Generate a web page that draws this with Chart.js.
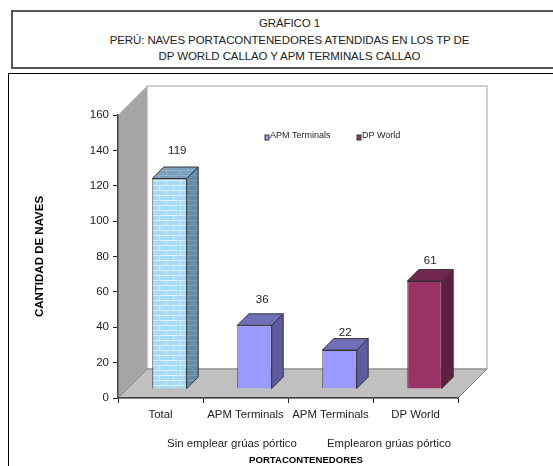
<!DOCTYPE html>
<html lang="es">
<head>
  <meta charset="UTF-8">
  <title>Gráfico 1 - Naves portacontenedores</title>
  <script src="https://cdn.jsdelivr.net/npm/chart.js"></script>
  <style>
    html, body { margin: 0; padding: 0; background: #fff; overflow: hidden; }
    body { width: 553px; height: 466px; position: relative; font-family: "Liberation Sans", Arial, sans-serif; }
    #cabecera {
      position: absolute; left: 11px; top: 10px; width: 560px; height: 55px;
      border: 2px solid #555; box-sizing: content-box;
    }
    #cabecera div {
      position: absolute; left: 0; width: 553px; text-align: center;
      font-size: 11.5px; line-height: 14px; color: #222; letter-spacing: -0.1px;
    }
    #marco {
      position: absolute; left: 8px; top: 72.5px; width: 560px; height: 400px;
      border: 1.5px solid #000;
    }
    canvas { position: absolute; left: 0; top: 0; }
  </style>
</head>
<body>
  <div id="cabecera">
    <div style="top:4px">GRÁFICO 1</div>
    <div style="top:21px">PERÚ: NAVES PORTACONTENEDORES ATENDIDAS EN LOS TP DE</div>
    <div style="top:37px">DP WORLD CALLAO Y APM TERMINALS CALLAO</div>
  </div>
  <div id="marco"></div>
  <canvas id="grafico" width="553" height="466"></canvas>
  <script>
    const categorias = ["Total", "APM Terminals", "APM Terminals", "DP World"];
    const naves = [119, 36, 22, 61];
    const ticksY = [0, 20, 40, 60, 80, 100, 120, 140, 160];
    const grupos = ["Sin emplear grúas pórtico", "Emplearon grúas pórtico"];
    const leyenda = ["APM Terminals", "DP World"];

    // ladrillos de la barra Total
    function ladrillos(fondo, linea) {
      const c = document.createElement("canvas");
      c.width = 14; c.height = 10;
      const g = c.getContext("2d");
      g.fillStyle = fondo; g.fillRect(0, 0, 14, 10);
      g.fillStyle = linea;
      g.fillRect(0, 4, 14, 1); g.fillRect(0, 9, 14, 1);
      g.fillRect(3, 0, 1, 4); g.fillRect(10, 5, 1, 4);
      return g.createPattern(c, "repeat");
    }

    const ctx = document.getElementById("grafico").getContext("2d");
    const frente = [ladrillos("#a6dbfb", "#d6f0ff"), "#9999ff", "#9999ff", "#993366"];
    const lado = [ladrillos("#648aa6", "#7a9db6"), "#5c5ca0", "#5c5ca0", "#5e1f40"];
    const tapa = [ladrillos("#7a9fbc", "#8fb2cc"), "#7070b8", "#7070b8", "#722650"];
    const separacion = [15, 13, 5, 8];   // del rótulo a la tapa
    const corrimiento = [2, 2, 0, 0];

    const FONDO = 29;      // profundidad de las paredes
    const BARRA_X = 9, BARRA_Y = 9, BARRA_F = 11.5;

    const escena3d = {
      id: "escena3d",
      beforeDraw(chart) {
        const c = chart.ctx, x = chart.scales.x, y = chart.scales.y;
        c.save();
        // pared del fondo
        c.fillStyle = "#fff";
        c.strokeStyle = "#c0c0c0";
        c.lineWidth = 1.5;
        c.fillRect(x.left + FONDO, y.top - FONDO, x.width, y.height);
        c.strokeRect(x.left + FONDO, y.top - FONDO, x.width, y.height);
        // pared izquierda
        c.fillStyle = "#a6a6a6";
        c.beginPath();
        c.moveTo(x.left, y.bottom);
        c.lineTo(x.left, y.top);
        c.lineTo(x.left + FONDO, y.top - FONDO);
        c.lineTo(x.left + FONDO, y.bottom - FONDO);
        c.closePath(); c.fill();
        // piso
        c.fillStyle = "#c0c0c0";
        c.strokeStyle = "#808080";
        c.lineWidth = 1;
        c.beginPath();
        c.moveTo(x.left, y.bottom);
        c.lineTo(x.left + FONDO, y.bottom - FONDO);
        c.lineTo(x.right + FONDO, y.bottom - FONDO);
        c.lineTo(x.right, y.bottom);
        c.closePath(); c.fill(); c.stroke();
        c.restore();
      },
      beforeDatasetsDraw(chart) {
        chart.ctx.save();
        chart.ctx.translate(BARRA_X, -BARRA_Y);
      },
      afterDatasetsDraw(chart) {
        const c = chart.ctx, meta = chart.getDatasetMeta(0);
        c.strokeStyle = "#333";
        c.lineWidth = 1;
        meta.data.forEach((b, i) => {
          const izq = b.x - b.width / 2, der = b.x + b.width / 2;
          c.fillStyle = lado[i];
          c.beginPath();
          c.moveTo(der, b.y); c.lineTo(der + BARRA_F, b.y - BARRA_F);
          c.lineTo(der + BARRA_F, b.base - BARRA_F); c.lineTo(der, b.base);
          c.closePath(); c.fill(); c.stroke();
          c.fillStyle = tapa[i];
          c.beginPath();
          c.moveTo(izq, b.y); c.lineTo(izq + BARRA_F, b.y - BARRA_F);
          c.lineTo(der + BARRA_F, b.y - BARRA_F); c.lineTo(der, b.y);
          c.closePath(); c.fill(); c.stroke();
        });
        c.restore();

        // rótulos de valor
        c.save();
        c.font = '11.5px "Liberation Sans"';
        c.fillStyle = "#222";
        c.textAlign = "center";
        c.textBaseline = "bottom";
        meta.data.forEach((b, i) => {
          c.fillText(naves[i], b.x + BARRA_X + BARRA_F / 2 + corrimiento[i],
            b.y - BARRA_Y - BARRA_F - separacion[i] + 5);
        });

        // leyenda
        c.font = '9px "Liberation Sans"';
        c.textAlign = "left";
        c.textBaseline = "middle";
        const xs = [265, 357];
        const colores = ["#9999ff", "#993366"];
        leyenda.forEach((t, i) => {
          c.fillStyle = colores[i];
          c.strokeStyle = "#333";
          c.fillRect(xs[i], 135, 4, 5);
          c.strokeRect(xs[i], 135, 4, 5);
          c.fillStyle = "#222";
          c.fillText(t, xs[i] + 5, 136);
        });

        // grupos y título del eje x
        c.font = '11.4px "Liberation Sans"';
        c.textAlign = "center";
        c.fillText(grupos[0], 232, 444);
        c.fillText(grupos[1], 389, 444);
        c.font = 'bold 9.6px "Liberation Sans"';
        c.fillStyle = "#000";
        c.fillText("PORTACONTENEDORES", 306, 460);
        c.restore();
      }
    };

    new Chart(ctx, {
      type: "bar",
      data: {
        labels: categorias,
        datasets: [{
          data: naves,
          backgroundColor: frente,
          borderColor: "#333",
          borderWidth: 1,
          barPercentage: 0.405,
          categoryPercentage: 1,
          clip: false
        }]
      },
      plugins: [escena3d],
      options: {
        responsive: false,
        animation: false,
        layout: { padding: { left: 0, top: 115, right: 95, bottom: 0 } },
        plugins: { legend: { display: false }, tooltip: { enabled: false }, title: { display: false } },
        scales: {
          x: {
            afterFit(s) { s.height = 68; },
            grid: { drawOnChartArea: false, offset: true, color: "#222", tickLength: 5 },
            border: { color: "#444", width: 1.5 },
            ticks: { color: "#222", font: { family: "Liberation Sans", size: 11.4 }, padding: 5, maxRotation: 0, autoSkip: false }
          },
          y: {
            min: 0,
            max: 160,
            afterFit(s) { s.width = 118; },
            afterBuildTicks(s) { s.ticks = ticksY.map(v => ({ value: v })); },
            grid: { drawOnChartArea: false, color: "#222", tickLength: 5 },
            border: { color: "#444", width: 1.5 },
            ticks: { color: "#222", font: { family: "Liberation Sans", size: 11.5 }, padding: 4 },
            title: {
              display: true,
              text: "CANTIDAD DE NAVES",
              color: "#000",
              font: { family: "Liberation Sans", size: 11.5, weight: "bold" },
              padding: { top: 33, bottom: 0 }
            }
          }
        }
      }
    });
  </script>
</body>
</html>
